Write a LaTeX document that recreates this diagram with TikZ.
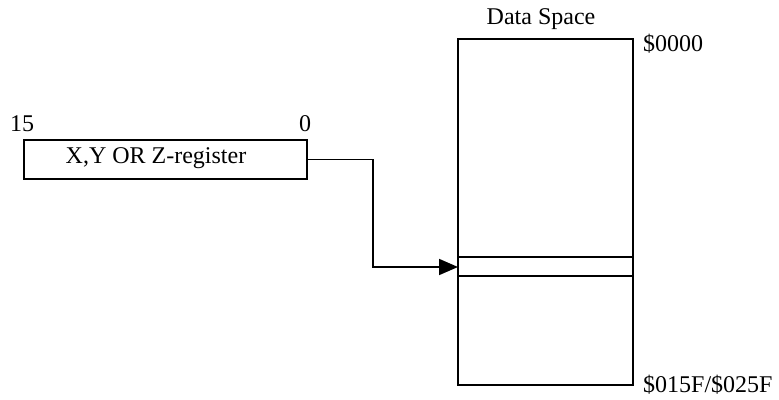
\documentclass[tikz,border=0pt]{standalone}
\usepackage{fontspec}
\setmainfont{Liberation Serif}
\usetikzlibrary{arrows.meta}
\begin{document}
\begin{tikzpicture}[x=1pt,y=-1pt,
  lbl/.style={font=\fontsize{24}{28}\selectfont, inner sep=0pt},
  box/.style={draw, line width=1.8pt},
  conn/.style={line width=1.8pt, -{Triangle[length=19pt,width=16pt]}, shorten >=-1pt}]
\useasboundingbox (0,0) rectangle (779,399);
% register
\node[box, minimum width=283pt, minimum height=39pt, anchor=north west, inner sep=0pt] (reg) at (23,139) {};
\node[lbl, anchor=base] (regtxt) at (156,163) {X,Y OR Z-register};
\node[lbl, anchor=base west] (b15) at (10,131) {15};
\node[lbl, anchor=base] (b0) at (305,131) {0};
% data space
\node[box, minimum width=175pt, minimum height=346pt, anchor=north west, inner sep=0pt] (mem) at (457,38) {};
\coordinate (c1) at (457,257);
\coordinate (c2) at (632,257);
\coordinate (c3) at (457,276);
\coordinate (c4) at (632,276);
\draw[line width=1.8pt] (c1) -- (c2);
\draw[line width=1.8pt] (c3) -- (c4);
\coordinate (cell) at (457,267);
\node[lbl, anchor=base] (title) at (541,24) {Data Space};
\node[lbl, anchor=base west] (top) at (643,51) {\$0000};
\node[lbl, anchor=base west] (bot) at (643,392) {\$015F/\$025F};
% pointer
\draw[conn] (reg.east) -| (373,267) -- (cell);
\end{tikzpicture}
\end{document}
